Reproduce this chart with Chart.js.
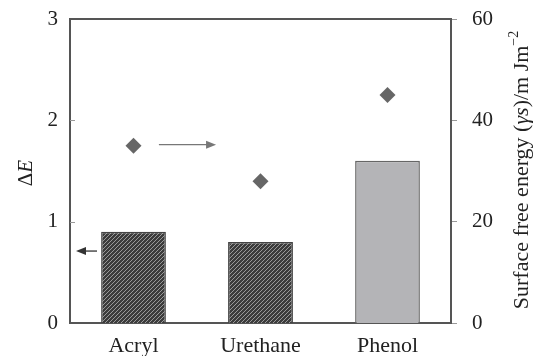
<!DOCTYPE html>
<html>
<head>
<meta charset="utf-8">
<script src="https://cdn.jsdelivr.net/npm/chart.js@4"></script>
<style>
  html, body { margin: 0; padding: 0; background: #fff; }
</style>
</head>
<body>
<canvas id="myChart" width="535" height="356"></canvas>
<script>
const categories = ['Acryl', 'Urethane', 'Phenol'];
const deltaE = [0.9, 0.8, 1.6];
const surfaceEnergy = [35, 28, 45];
const leftTicks = [0, 1, 2, 3];
const rightTicks = [0, 20, 40, 60];

const axisColor = '#555';
const textColor = '#222';
const serif = "'Liberation Serif', 'DejaVu Serif', serif";

// hatched fill for the first two bars
const makeHatch = () => {
  const c = document.createElement('canvas');
  c.width = 4; c.height = 4;
  const g = c.getContext('2d');
  g.fillStyle = '#3c3c3c';
  g.fillRect(0, 0, 4, 4);
  g.strokeStyle = '#9a9a9a';
  g.lineWidth = 1;
  g.beginPath();
  g.moveTo(0, 4); g.lineTo(4, 0);
  g.moveTo(-1, 1); g.lineTo(1, -1);
  g.moveTo(3, 5); g.lineTo(5, 3);
  g.stroke();
  return g.createPattern(c, 'repeat');
};
const ctx = document.getElementById('myChart').getContext('2d');
const hatch = makeHatch();

const drawArrow = (c, x1, y, x2, color) => {
  const dir = Math.sign(x2 - x1);
  c.save();
  c.strokeStyle = color;
  c.fillStyle = color;
  c.lineWidth = 1.3;
  c.beginPath();
  c.moveTo(x1, y);
  c.lineTo(x2 - dir * 8, y);
  c.stroke();
  c.beginPath();
  c.moveTo(x2, y);
  c.lineTo(x2 - dir * 10, y - 4);
  c.lineTo(x2 - dir * 10, y + 4);
  c.closePath();
  c.fill();
  c.restore();
};

// text made of pieces [text, font, raise], drawn rotated to read bottom-to-top
const drawRotated = (c, parts, cx, cy) => {
  c.save();
  c.translate(cx, cy);
  c.rotate(-Math.PI / 2);
  c.fillStyle = textColor;
  c.textBaseline = 'alphabetic';
  c.textAlign = 'left';
  let total = 0;
  parts.forEach(p => { c.font = p[1]; total += c.measureText(p[0]).width; });
  let x = -total / 2;
  parts.forEach(p => {
    c.font = p[1];
    c.fillText(p[0], x, -(p[2] || 0));
    x += c.measureText(p[0]).width;
  });
  c.restore();
};

const extras = {
  id: 'extras',
  afterDraw(chart) {
    const c = chart.ctx;
    const a = chart.chartArea;
    const yL = chart.scales.y;
    const yR = chart.scales.y2;
    const x = chart.scales.x;
    c.save();
    c.strokeStyle = axisColor;
    c.lineWidth = 2;
    // frame top
    c.beginPath();
    c.moveTo(a.left, a.top);
    c.lineTo(a.right, a.top);
    c.stroke();
    // inner ticks on left axis
    c.lineWidth = 1;
    c.strokeStyle = '#999';
    leftTicks.slice(1, -1).forEach(v => {
      const py = Math.round(yL.getPixelForValue(v)) + 0.5;
      c.beginPath();
      c.moveTo(a.left, py);
      c.lineTo(a.left + 5, py);
      c.stroke();
    });
    c.restore();
    // arrows pointing to the axes
    drawArrow(c, a.left + 27, yL.getPixelForValue(0.71), a.left + 6, '#333');
    drawArrow(c, x.getPixelForValue(0.2), yR.getPixelForValue(35.2), x.getPixelForValue(0.65), '#777');
    // axis titles
    const f = '21px ' + serif, fi = 'italic 21px ' + serif;
    const r = '22px ' + serif, ri = 'italic 22px ' + serif, rs = '14px ' + serif;
    drawRotated(c, [['Δ', f], ['E', fi]], 32, 173);
    drawRotated(c, [
      ['Surface free energy (', r],
      ['γs', ri],
      [')/m Jm', r],
      ['−2', rs, 10]
    ], 528, 170);
  }
};

const noPad = s => { s.paddingTop = 0; s.paddingBottom = 0; };

new Chart(ctx, {
  type: 'bar',
  data: {
    labels: categories,
    datasets: [
      {
        type: 'line',
        data: surfaceEnergy,
        yAxisID: 'y2',
        showLine: false,
        pointStyle: 'rectRot',
        pointRadius: 8,
        backgroundColor: '#666',
        borderColor: '#666',
        borderWidth: 0
      },
      {
        data: deltaE,
        yAxisID: 'y',
        backgroundColor: [hatch, hatch, '#b4b4b7'],
        borderColor: ['#444', '#444', '#666'],
        borderWidth: 1.5,
        categoryPercentage: 1,
        barPercentage: 0.51
      }
    ]
  },
  options: {
    responsive: false,
    animation: false,
    layout: { padding: { top: 19, left: 0, right: 0, bottom: 0 } },
    plugins: { legend: { display: false }, tooltip: { enabled: false } },
    scales: {
      x: {
        grid: { display: false, drawTicks: false },
        border: { color: axisColor, width: 2 },
        ticks: { color: textColor, font: { family: serif, size: 22 }, padding: 10 },
        afterFit: s => { s.height = 33; s.paddingLeft = 0; s.paddingRight = 0; }
      },
      y: {
        position: 'left',
        min: 0, max: 3,
        afterBuildTicks: s => { s.ticks = leftTicks.map(v => ({ value: v })); },
        grid: { display: false, drawTicks: false },
        border: { color: axisColor, width: 2 },
        ticks: { color: textColor, font: { family: serif, size: 21 }, padding: 12 },
        afterFit: s => { s.width = 70; noPad(s); }
      },
      y2: {
        position: 'right',
        min: 0, max: 60,
        afterBuildTicks: s => { s.ticks = rightTicks.map(v => ({ value: v })); },
        grid: { drawOnChartArea: false, drawTicks: true, tickLength: 6, color: '#999' },
        border: { color: axisColor, width: 2 },
        ticks: { color: textColor, font: { family: serif, size: 21 }, padding: 15 },
        afterFit: s => { s.width = 84; noPad(s); }
      }
    }
  },
  plugins: [extras]
});
</script>
</body>
</html>
